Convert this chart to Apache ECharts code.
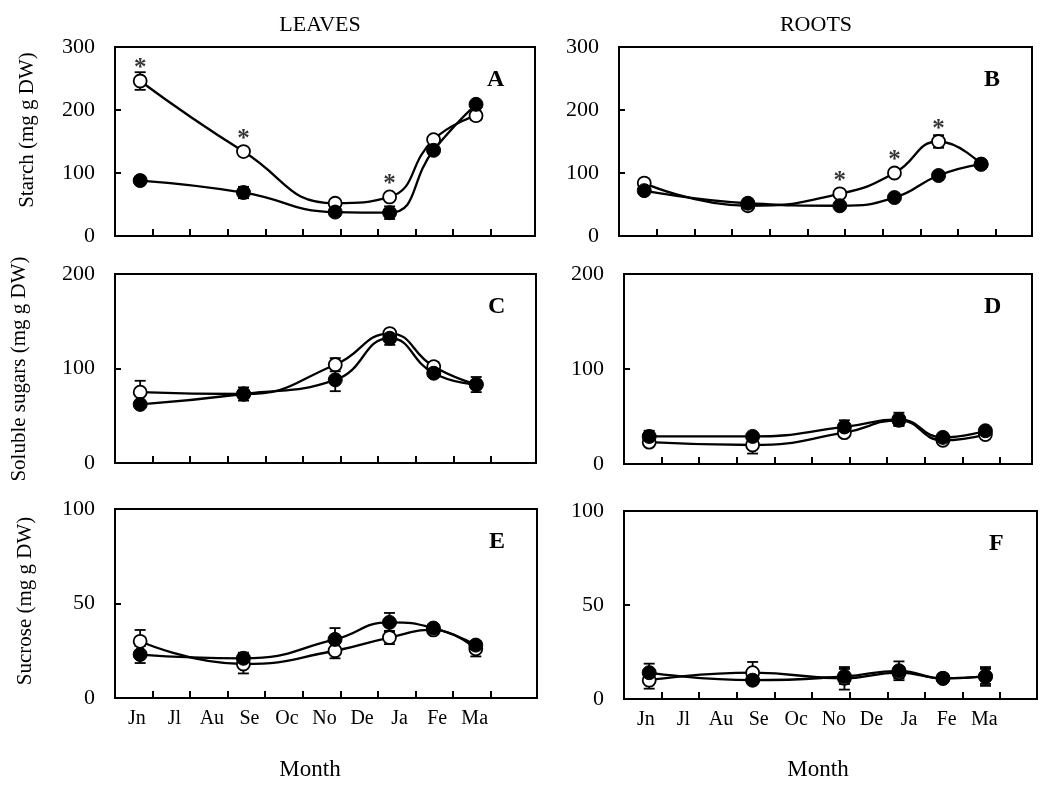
<!DOCTYPE html>
<html>
<head>
<meta charset="utf-8">
<script src="https://cdn.jsdelivr.net/npm/echarts@6/dist/echarts.min.js"></script>
<style>
  html, body { margin: 0; padding: 0; background: #fff; }
  #main { width: 1051px; height: 790px; }
</style>
</head>
<body>
<div id="main"></div>
<script>
// month labels and sampling dates (x in month units, 0 = start of June)
var months = ['Jn', 'Jl', 'Au', 'Se', 'Oc', 'No', 'De', 'Ja', 'Fe', 'Ma'];
var sampleX = [0.67, 3.42, 5.86, 7.31, 8.48, 9.61];

// A - starch, leaves
var starchLeavesOpen = [246, 134, 52, 62, 153, 191];
var starchLeavesOpenErr = [14, 5, 4, 5, 5, 7];
var starchLeavesFilled = [88, 69, 38, 37, 136, 209];
var starchLeavesFilledErr = [6, 9, 5, 10, 6, 5];
var starchLeavesStar = [1, 1, 0, 1, 0, 0];

// B - starch, roots
var starchRootsOpen = [84, 48, 67, 100, 150, 114];
var starchRootsOpenErr = [3, 3, 3, 4, 10, 4];
var starchRootsFilled = [72, 52, 48, 61, 96, 114];
var starchRootsFilledErr = [3, 4, 3, 3, 4, 4];
var starchRootsStar = [0, 0, 1, 1, 1, 0];

// C - soluble sugars, leaves
var sugarsLeavesOpen = [75, 73, 104, 137, 102, 83];
var sugarsLeavesOpenErr = [12, 4, 7, 3, 5, 4];
var sugarsLeavesFilled = [62, 73, 88, 132, 95, 83];
var sugarsLeavesFilledErr = [3, 7, 12, 7, 3, 8];

// D - soluble sugars, roots
var sugarsRootsOpen = [23, 20, 33, 46, 25, 31];
var sugarsRootsOpenErr = [3, 9, 4, 5, 3, 3];
var sugarsRootsFilled = [29, 29, 39, 47, 28, 35];
var sugarsRootsFilledErr = [6, 3, 7, 7, 3, 3];

// E - sucrose, leaves
var sucroseLeavesOpen = [30, 18, 25, 32, 36, 26];
var sucroseLeavesOpenErr = [6, 5, 4, 3.5, 2, 4];
var sucroseLeavesFilled = [23, 21, 31, 40, 37, 28];
var sucroseLeavesFilledErr = [4.5, 3, 6, 5, 2, 2];

// F - sucrose, roots
var sucroseRootsOpen = [10, 14, 11, 14, 11, 12];
var sucroseRootsOpenErr = [4.5, 5.7, 6, 3, 2, 4];
var sucroseRootsFilled = [14, 10, 12, 15, 11, 12];
var sucroseRootsFilledErr = [4.8, 2, 4, 5, 2, 5];

var panels = [
  { letter: 'A', grid: { left: 115, top: 47, width: 420, height: 189 }, xMax: 11.18, yMax: 300, yStep: 100,
    open: starchLeavesOpen, openErr: starchLeavesOpenErr, filled: starchLeavesFilled, filledErr: starchLeavesFilledErr, star: starchLeavesStar },
  { letter: 'B', grid: { left: 619, top: 47, width: 413, height: 189 }, xMax: 10.96, yMax: 300, yStep: 100,
    open: starchRootsOpen, openErr: starchRootsOpenErr, filled: starchRootsFilled, filledErr: starchRootsFilledErr, star: starchRootsStar },
  { letter: 'C', grid: { left: 115, top: 274, width: 421, height: 189 }, xMax: 11.2, yMax: 200, yStep: 100,
    open: sugarsLeavesOpen, openErr: sugarsLeavesOpenErr, filled: sugarsLeavesFilled, filledErr: sugarsLeavesFilledErr },
  { letter: 'D', grid: { left: 624, top: 274, width: 408, height: 190 }, xMax: 10.85, yMax: 200, yStep: 100,
    open: sugarsRootsOpen, openErr: sugarsRootsOpenErr, filled: sugarsRootsFilled, filledErr: sugarsRootsFilledErr },
  { letter: 'E', grid: { left: 115, top: 509, width: 422, height: 189 }, xMax: 11.24, yMax: 100, yStep: 50,
    open: sucroseLeavesOpen, openErr: sucroseLeavesOpenErr, filled: sucroseLeavesFilled, filledErr: sucroseLeavesFilledErr, showMonths: true },
  { letter: 'F', grid: { left: 624, top: 511, width: 413, height: 188 }, xMax: 10.98, yMax: 100, yStep: 50,
    open: sucroseRootsOpen, openErr: sucroseRootsOpenErr, filled: sucroseRootsFilled, filledErr: sucroseRootsFilledErr, showMonths: true }
];

var FONT = 'Liberation Serif';
var myChart = echarts.init(document.getElementById('main'));

function pairs(vals) {
  return vals.map(function (v, i) { return [sampleX[i], v]; });
}
function errData(vals, errs) {
  return vals.map(function (v, i) { return [sampleX[i], v, errs[i]]; });
}

function renderErr(params, api) {
  var x = api.value(0), y = api.value(1), e = api.value(2);
  var hi = api.coord([x, y + e]);
  var lo = api.coord([x, y - e]);
  var w = 5.5;
  var st = { stroke: '#000', lineWidth: 1.8 };
  return {
    type: 'group',
    children: [
      { type: 'line', shape: { x1: hi[0], y1: hi[1], x2: lo[0], y2: lo[1] }, style: st },
      { type: 'line', shape: { x1: hi[0] - w, y1: hi[1], x2: hi[0] + w, y2: hi[1] }, style: st },
      { type: 'line', shape: { x1: lo[0] - w, y1: lo[1], x2: lo[0] + w, y2: lo[1] }, style: st }
    ]
  };
}

var grids = [], xAxes = [], yAxes = [], series = [], graphics = [];

panels.forEach(function (p, k) {
  grids.push(Object.assign({ show: true, borderColor: '#000', borderWidth: 2, backgroundColor: 'transparent' }, p.grid));

  xAxes.push({
    type: 'value', gridIndex: k, min: 0, max: p.xMax,
    splitLine: { show: false },
    axisLine: { show: true, lineStyle: { color: '#000', width: 2 } },
    axisTick: { show: true, inside: true, length: 7, lineStyle: { color: '#000', width: 2 },
      customValues: months.map(function (m, i) { return i + 1; }) },
    axisLabel: { show: !!p.showMonths, margin: 11, color: '#000', fontFamily: FONT, fontSize: 20,
      customValues: months.map(function (m, i) { return i + 0.58; }),
      formatter: function (v) { return months[Math.round(v - 0.58)]; } }
  });

  yAxes.push({
    type: 'value', gridIndex: k, min: 0, max: p.yMax, interval: p.yStep,
    splitLine: { show: false },
    axisLine: { show: true, lineStyle: { color: '#000', width: 2 } },
    axisTick: { show: true, inside: true, length: 6, lineStyle: { color: '#000', width: 2 } },
    axisLabel: { margin: 20, color: '#000', fontFamily: FONT, fontSize: 22 }
  });

  series.push({
    type: 'custom', xAxisIndex: k, yAxisIndex: k, renderItem: renderErr,
    data: errData(p.open, p.openErr), z: 2, silent: true
  });
  series.push({
    type: 'custom', xAxisIndex: k, yAxisIndex: k, renderItem: renderErr,
    data: errData(p.filled, p.filledErr), z: 2, silent: true
  });
  series.push({
    type: 'line', xAxisIndex: k, yAxisIndex: k, data: pairs(p.open), smooth: 0.5,
    symbol: 'circle', symbolSize: 13, showAllSymbol: true,
    lineStyle: { color: '#000', width: 2.3 },
    itemStyle: { color: '#fff', borderColor: '#000', borderWidth: 1.8 },
    z: 3, silent: true
  });
  series.push({
    type: 'line', xAxisIndex: k, yAxisIndex: k, data: pairs(p.filled), smooth: 0.5,
    symbol: 'circle', symbolSize: 14, showAllSymbol: true,
    lineStyle: { color: '#000', width: 2.3 },
    itemStyle: { color: '#000', borderColor: '#000', borderWidth: 1 },
    z: 4, silent: true
  });
  if (p.star) {
    var starPts = [];
    p.star.forEach(function (s, i) { if (s) starPts.push([sampleX[i], p.open[i]]); });
    series.push({
      type: 'scatter', xAxisIndex: k, yAxisIndex: k, data: starPts,
      symbolSize: 2, itemStyle: { color: 'rgba(0,0,0,0)' },
      label: { show: true, formatter: '*', position: 'inside', offset: [0, -12],
        color: '#000', fontFamily: FONT, fontSize: 25, fontWeight: 'bold' },
      z: 5, silent: true
    });
  }

  graphics.push({
    type: 'text', left: p.grid.left + p.grid.width - 48, top: p.grid.top + 21,
    style: { text: p.letter, font: 'bold 24px "' + FONT + '"', fill: '#000' }
  });
});

function vText(text, x, y) {
  return { type: 'text', x: x, y: y, rotation: Math.PI / 2,
    style: { text: text, font: '21px "' + FONT + '"', fill: '#000', align: 'center', verticalAlign: 'middle' } };
}
function hText(text, x, y, size) {
  return { type: 'text', x: x, y: y,
    style: { text: text, font: size + 'px "' + FONT + '"', fill: '#000', align: 'center', verticalAlign: 'middle' } };
}

graphics.push(hText('LEAVES', 320, 25, 22));
graphics.push(hText('ROOTS', 816, 25, 22));
graphics.push(vText('Starch (mg g DW)', 27, 130));
graphics.push(vText('Soluble sugars (mg g DW)', 19, 369));
graphics.push(vText('Sucrose (mg g DW)', 25, 601));
graphics.push(hText('Month', 310, 770, 23));
graphics.push(hText('Month', 818, 770, 23));

var option = {
  animation: false,
  backgroundColor: '#fff',
  grid: grids,
  xAxis: xAxes,
  yAxis: yAxes,
  series: series,
  graphic: graphics
};
myChart.setOption(option);
</script>
</body>
</html>
